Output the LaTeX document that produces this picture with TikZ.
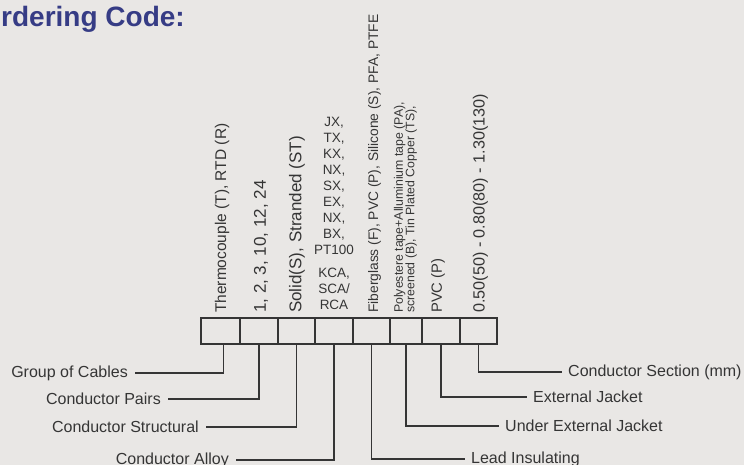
\documentclass[tikz,border=0pt]{standalone}
\usepackage{fontspec}
\setmainfont{Liberation Sans}
\usetikzlibrary{positioning}

\definecolor{paper}{HTML}{E9E7E5}
\definecolor{ink}{HTML}{353535}
\definecolor{titleblue}{HTML}{363C85}

\tikzset{
  cellbox/.style={draw=ink, line width=1.4pt, minimum height=26pt, inner sep=0pt, outer sep=0pt},
  lead/.style={ink, line width=1.4pt},
  leftlab/.style={anchor=east, text=ink, inner xsep=7pt, inner ysep=0pt, font=\fontsize{16}{19}\selectfont},
  rightlab/.style={anchor=west, text=ink, inner xsep=6pt, inner ysep=0pt, font=\fontsize{16}{19}\selectfont},
  code/.style={rotate=90, anchor=west, text=ink, inner sep=0pt}
}

\begin{document}
\begin{tikzpicture}[x=1pt, y=-1pt]
\useasboundingbox (0,0) rectangle (744,465);
\fill[paper] (0,0) rectangle (744,465);
\clip (0,0) rectangle (744,465);

\node[anchor=base east, inner sep=0pt, text=titleblue, font=\fontsize{28}{32}\selectfont\bfseries] (title) at (185,27) {Ordering Code:};

% code boxes
\node[cellbox, minimum width=39pt] (cell1) at (220.5,331) {};
\node[cellbox, minimum width=38pt, right=0pt of cell1] (cell2) {};
\node[cellbox, minimum width=37pt, right=0pt of cell2] (cell3) {};
\node[cellbox, minimum width=38pt, right=0pt of cell3] (cell4) {};
\node[cellbox, minimum width=37pt, right=0pt of cell4] (cell5) {};
\node[cellbox, minimum width=32pt, right=0pt of cell5] (cell6) {};
\node[cellbox, minimum width=38pt, right=0pt of cell6] (cell7) {};
\node[cellbox, minimum width=37pt, right=0pt of cell7] (cell8) {};

% options above the boxes
\node[code, font=\fontsize{15.5}{18}\selectfont] (optType) at ([xshift=1.5pt, yshift=5pt]cell1.north) {Thermocouple (T), RTD (R)};
\node[code, font=\fontsize{17}{20}\selectfont] (optPairs) at ([xshift=2pt, yshift=5pt]cell2.north) {1, 2, 3, 10, 12, 24};
\node[code, font=\fontsize{17}{20}\selectfont] (optStruct) at ([xshift=0.5pt, yshift=5pt]cell3.north) {Solid(S), Stranded (ST)};
\node[anchor=south, align=center, text=ink, inner sep=0pt, font=\fontsize{13.5}{16}\selectfont] (optAlloy) at ([yshift=8pt]cell4.north)
  {JX,\\TX,\\KX,\\NX,\\SX,\\EX,\\NX,\\BX,\\PT100\\[7pt]KCA,\\SCA/\\RCA};
\node[code, font=\fontsize{13.8}{16}\selectfont] (optLead) at ([xshift=3pt, yshift=5pt]cell5.north) {Fiberglass (F), PVC (P), Silicone (S), PFA, PTFE};
\node[code, align=left, font=\fontsize{12.3}{11.5}\selectfont] (optUnder) at ([xshift=-0.5pt, yshift=5pt]cell6.north)
  {Polyestere tape+Alluminium tape (PA),\\screened (B), Tin Plated Copper (TS),};
\node[code, font=\fontsize{14.8}{18}\selectfont] (optJacket) at ([xshift=-3pt, yshift=5pt]cell7.north) {PVC (P)};
\node[code, font=\fontsize{16.2}{19}\selectfont] (optSection) at ([xshift=2pt, yshift=5pt]cell8.north) {0.50(50) - 0.80(80) - 1.30(130)};

% names below the boxes
\node[leftlab] (labGroup) at (135,373) {Group of Cables};
\node[leftlab] (labPairs) at (168,399) {Conductor Pairs};
\node[leftlab] (labStruct) at (206,427) {Conductor Structural};
\node[leftlab] (labAlloy) at (236,460) {Conductor Alloy};
\node[rightlab] (labSection) at (562,372) {Conductor Section (mm)};
\node[rightlab] (labJacket) at (527,397) {External Jacket};
\node[rightlab] (labUnder) at (499,426) {Under External Jacket};
\node[rightlab] (labLead) at (465,459) {Lead Insulating};

\draw[lead] ([xshift=3pt]cell1.south) |- (labGroup.east);
\draw[lead] (cell2.south) |- (labPairs.east);
\draw[lead] (cell3.south) |- (labStruct.east);
\draw[lead] (cell4.south) |- (labAlloy.east);
\draw[lead] (cell5.south) |- (labLead.west);
\draw[lead] (cell6.south) |- (labUnder.west);
\draw[lead] (cell7.south) |- (labJacket.west);
\draw[lead] (cell8.south) |- (labSection.west);
\end{tikzpicture}
\end{document}
